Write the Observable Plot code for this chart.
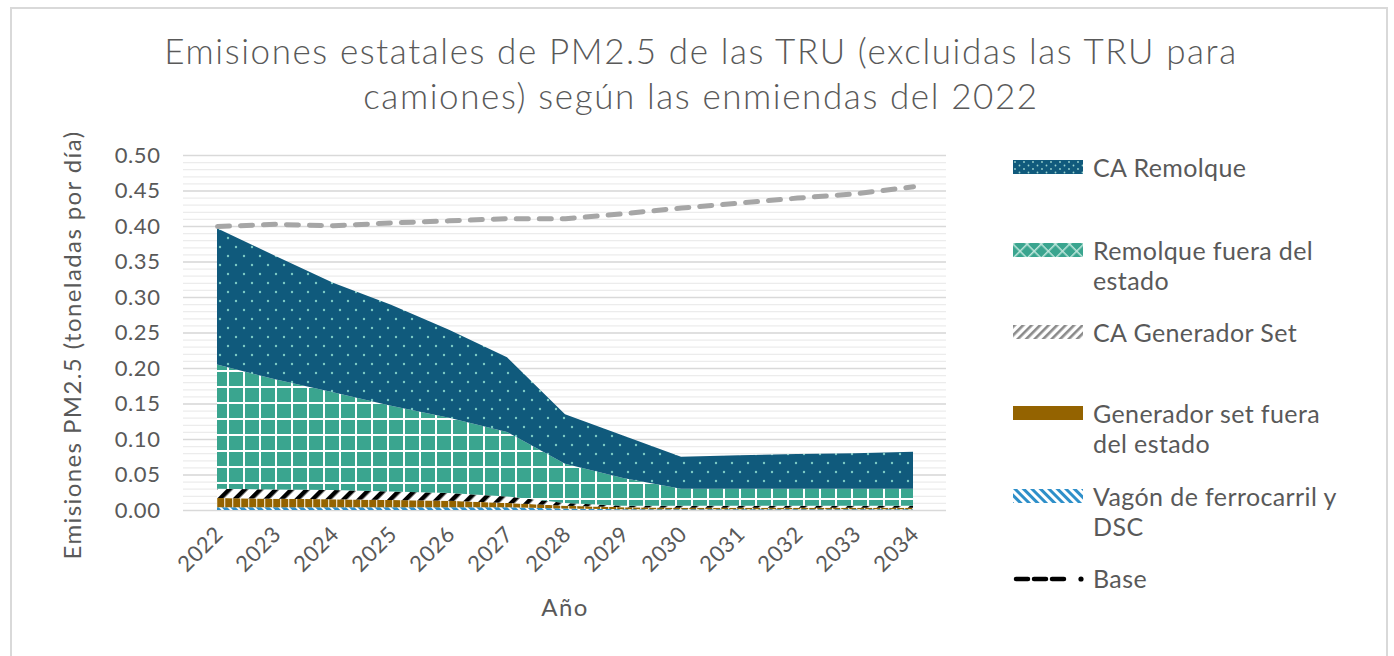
<!DOCTYPE html>
<html>
<head>
<meta charset="utf-8">
<script src="https://cdn.jsdelivr.net/npm/d3@7"></script>
<script src="https://cdn.jsdelivr.net/npm/@observablehq/plot@0.6"></script>
<style>
  html, body { margin: 0; padding: 0; background: #fff; }
  #wrap { position: relative; width: 1394px; height: 656px; overflow: hidden; font-family: Lato, "Open Sans", sans-serif; color: #595959; }
  #frame { position: absolute; left: 10px; top: 7px; width: 1378px; height: 700px; border: 2px solid #d9d9d9; box-sizing: border-box; }
  #title { position: absolute; left: 0; top: 28px; width: 1402px; text-align: center; font-size: 35px; font-weight: 300; letter-spacing: 1.6px; line-height: 45px; }
  #chart { position: absolute; left: 0; top: 0; }
  #chart svg text { letter-spacing: 0.6px; }
  .leg { position: absolute; left: 1013px; font-size: 25px; line-height: 30px; letter-spacing: 0.4px; }
  .leg svg { position: absolute; left: 0; }
  .leg span { position: absolute; left: 80px; white-space: nowrap; }
</style>
</head>
<body>
<svg width="0" height="0" style="position:absolute">
  <defs>
    <pattern id="pDots" patternUnits="userSpaceOnUse" width="16" height="18">
      <rect width="16" height="18" fill="#105a7c"/>
      <circle cx="4" cy="4" r="1.2" fill="#7ccac4"/>
      <circle cx="12" cy="13" r="1.2" fill="#7ccac4"/>
    </pattern>
    <pattern id="pGrid" patternUnits="userSpaceOnUse" width="16" height="16" x="3" y="2">
      <rect width="16" height="16" fill="#3aa58f"/>
      <rect x="0" y="0" width="2" height="16" fill="#ffffff"/>
      <rect x="0" y="0" width="16" height="2" fill="#ffffff"/>
    </pattern>
    <pattern id="pHatch" patternUnits="userSpaceOnUse" width="11" height="11" patternTransform="rotate(45)">
      <rect width="11" height="11" fill="#ffffff"/>
      <rect width="4.5" height="11" fill="#000000"/>
    </pattern>
    <pattern id="pBrown" patternUnits="userSpaceOnUse" width="8" height="8">
      <rect width="8" height="8" fill="#946300"/>
      <rect x="0" width="1.3" height="8" fill="#e9d9b8"/>
    </pattern>
    <pattern id="pBlue" patternUnits="userSpaceOnUse" width="6" height="6" patternTransform="rotate(-45)">
      <rect width="6" height="6" fill="#2e8fc9"/>
      <rect width="2" height="6" fill="#ffffff"/>
    </pattern>
    <pattern id="lDots" patternUnits="userSpaceOnUse" width="9" height="7">
      <rect width="9" height="7" fill="#105a7c"/>
      <circle cx="2" cy="2" r="0.9" fill="#9ad3cf"/>
      <circle cx="6.5" cy="5.5" r="0.9" fill="#9ad3cf"/>
    </pattern>
    <pattern id="lDiam" patternUnits="userSpaceOnUse" width="10" height="10" patternTransform="rotate(45)">
      <rect width="10" height="10" fill="#3aa58f"/>
      <rect width="1.5" height="10" fill="#bfe6dc"/>
      <rect width="10" height="1.5" fill="#bfe6dc"/>
    </pattern>
    <pattern id="lGray" patternUnits="userSpaceOnUse" width="6" height="6" patternTransform="rotate(45)">
      <rect width="6" height="6" fill="#ffffff"/>
      <rect width="2.6" height="6" fill="#8a8a8a"/>
    </pattern>
    <pattern id="lBlue" patternUnits="userSpaceOnUse" width="6" height="6" patternTransform="rotate(-45)">
      <rect width="6" height="6" fill="#ffffff"/>
      <rect width="3" height="6" fill="#2e8fc9"/>
    </pattern>
  </defs>
</svg>
<div id="wrap">
  <div id="frame"></div>
  <div id="chart"></div>
  <div id="title">Emisiones estatales de PM2.5 de las TRU (excluidas las TRU para<br>camiones) según las enmiendas del 2022</div>
  <div id="legend"></div>
</div>
<script>
// ---- Data (toneladas por día) ----
const years = ["2022","2023","2024","2025","2026","2027","2028","2029","2030","2031","2032","2033","2034"];
const seriesNames = ["Vagón de ferrocarril y DSC", "Generador set fuera del estado", "CA Generador Set", "Remolque fuera del estado", "CA Remolque"];
const vagon     = [0.004,0.004,0.004,0.004,0.004,0.004,0.002,0.001,0.001,0.001,0.001,0.001,0.001];
const genFuera  = [0.013,0.012,0.011,0.010,0.009,0.006,0.004,0.003,0.002,0.002,0.002,0.002,0.002];
const caGen     = [0.013,0.013,0.013,0.012,0.011,0.009,0.004,0.002,0.003,0.003,0.003,0.003,0.003];
const remFuera  = [0.175,0.155,0.138,0.121,0.106,0.091,0.055,0.039,0.024,0.024,0.024,0.024,0.024];
const caRemolque= [0.192,0.174,0.154,0.142,0.124,0.105,0.070,0.060,0.045,0.047,0.049,0.050,0.052];
const base      = [0.400,0.403,0.401,0.405,0.408,0.411,0.411,0.418,0.426,0.433,0.440,0.446,0.456];
const yTicks = [0,0.05,0.10,0.15,0.20,0.25,0.30,0.35,0.40,0.45,0.50];
const fills = ["url(#pBlue)","url(#pBrown)","url(#pHatch)","url(#pGrid)","url(#pDots)"];

const seriesValues = [vagon, genFuera, caGen, remFuera, caRemolque];
const table = [];
seriesNames.forEach((s, i) => years.forEach((y, j) => table.push({year: y, series: s, value: seriesValues[i][j]})));
const baseData = years.map((y, j) => ({year: y, value: base[j]}));
const minor = d3.range(0, 51).map(i => i / 100);

const chart = Plot.plot({
  width: 1394,
  height: 656,
  marginLeft: 183,
  marginRight: 448,
  marginTop: 155,
  marginBottom: 146,
  style: {fontFamily: "Lato, 'Open Sans', sans-serif", fontSize: "22px", color: "#595959", background: "transparent"},
  x: {type: "point", domain: years, padding: 0.5},
  y: {domain: [0, 0.5]},
  color: {type: "ordinal", domain: seriesNames, range: fills},
  marks: [
    Plot.ruleY(minor, {stroke: "#ececec", strokeWidth: 1.2}),
    Plot.ruleY(yTicks, {stroke: "#d9d9d9", strokeWidth: 1.6}),
    Plot.areaY(table, {x: "year", y: "value", z: "series", fill: "series", order: seriesNames}),
    Plot.lineY(baseData, {x: "year", y: "value", stroke: "#a6a6a6", strokeWidth: 5, strokeDasharray: "12,11", strokeLinecap: "round"}),
    Plot.axisY({ticks: yTicks, tickFormat: d3.format(".2f"), tickSize: 0, tickPadding: 23, label: null, fontSize: 22}),
    Plot.axisX({tickRotate: -45, tickSize: 0, tickPadding: 20, dx: 2, label: null, fontSize: 22}),
    Plot.text(["Emisiones PM2.5 (toneladas por día)"], {frameAnchor: "left", dx: -110, dy: 12, rotate: -90, textAnchor: "middle", lineAnchor: "middle", fontSize: 24, fill: "#595959"}),
    Plot.text(["Año"], {frameAnchor: "bottom", dy: 98, lineAnchor: "middle", fontSize: 24, fill: "#595959"})
  ]
});
document.getElementById("chart").appendChild(chart);
d3.select(chart).selectAll('g[aria-label="text"] text').style("letter-spacing", "1.4px");

// ---- Legend ----
const legendItems = [
  {lines: ["CA Remolque"], top: 152, swatch: "url(#lDots)"},
  {lines: ["Remolque fuera del", "estado"], top: 235, swatch: "url(#lDiam)"},
  {lines: ["CA Generador Set"], top: 317, swatch: "url(#lGray)"},
  {lines: ["Generador set fuera", "del estado"], top: 398, swatch: "#946300"},
  {lines: ["Vagón de ferrocarril y", "DSC"], top: 481, swatch: "url(#lBlue)"},
  {lines: ["Base"], top: 563, swatch: "dash"}
];
const legend = document.getElementById("legend");
legendItems.forEach(it => {
  const d = document.createElement("div");
  d.className = "leg";
  d.style.top = it.top + "px";
  let sw;
  if (it.swatch === "dash") {
    sw = `<svg width="72" height="30" style="top:0"><line x1="3" y1="16" x2="55" y2="16" stroke="#000" stroke-width="4.5" stroke-dasharray="12,6" stroke-linecap="round"/><circle cx="68" cy="16" r="2.6" fill="#000"/></svg>`;
  } else {
    sw = `<svg width="70" height="14" style="top:8px"><rect width="70" height="14" fill="${it.swatch}"/></svg>`;
  }
  d.innerHTML = sw + `<span>${it.lines.join("<br>")}</span>`;
  legend.appendChild(d);
});
</script>
</body>
</html>
